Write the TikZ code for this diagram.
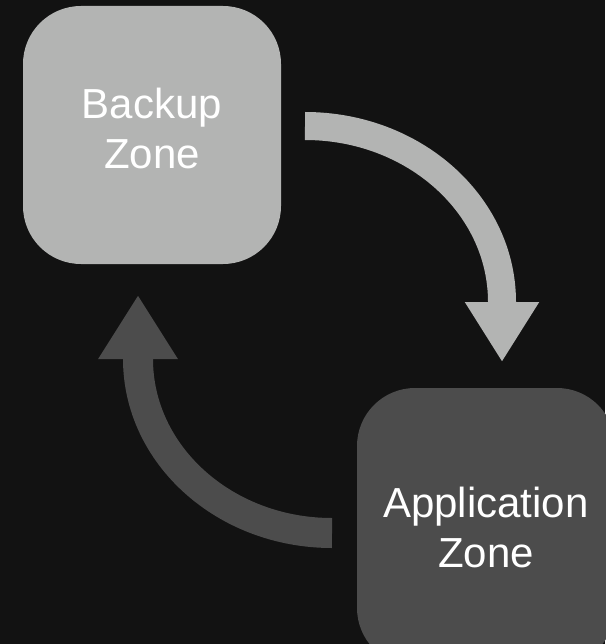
\documentclass[tikz,border=0pt]{standalone}
\usepackage{fontspec}
\setmainfont{Liberation Sans}
\usetikzlibrary{arrows.meta}

\definecolor{bgdark}{HTML}{121212}
\definecolor{lightzone}{HTML}{B3B4B3}
\definecolor{darkzone}{HTML}{4C4C4C}

\begin{document}
\begin{tikzpicture}
  [x=1pt,y=1pt,
   zone/.style={rounded corners=58pt,inner sep=0pt,minimum width=258pt,
     text=white,align=center,font=\fontsize{42}{50}\selectfont},
   flow/.style={line width=#1}]
  \fill[bgdark] (0,0) rectangle (605,-644);
  \useasboundingbox (0,0) rectangle (605,-644);

  \node[zone,fill=lightzone,minimum height=258pt,text depth=14pt] (backup) at (152,-135) {Backup\\Zone};
  \node[zone,fill=darkzone,minimum height=278pt] (app) at (486,-527) {Application\\Zone};

  % free ends of the two flows
  \coordinate (bkOut) at (305,-126);
  \coordinate (apIn) at (502,-362);
  \coordinate (apOut) at (332,-533);
  \coordinate (bkIn) at (138,-295);

  \draw[flow=28pt,lightzone,-{Triangle[length=60pt,width=70pt]}]
    (bkOut) arc[start angle=90,end angle=0,x radius=197pt,y radius=176pt] -- (apIn);
  \draw[flow=30pt,darkzone,-{Triangle[length=64pt,width=75pt]}]
    (apOut) arc[start angle=270,end angle=180,x radius=194pt,y radius=174pt] -- (bkIn);
\end{tikzpicture}
\end{document}
